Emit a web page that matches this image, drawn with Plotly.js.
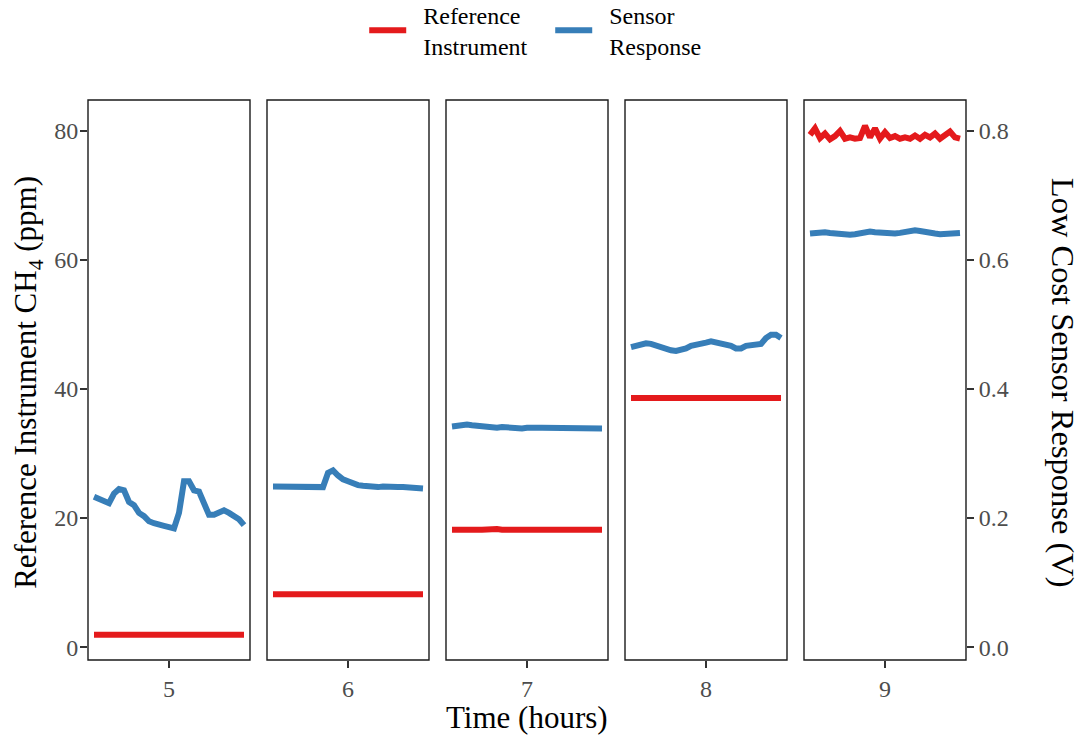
<!DOCTYPE html>
<html>
<head>
<meta charset="utf-8">
<script src="https://cdn.plot.ly/plotly-3.0.1.min.js"></script>
<style>html,body{margin:0;padding:0;background:#fff;}#chart{width:1085px;height:736px;}</style>
</head>
<body>
<div id="chart"></div>
<script>
// Hours shown (one panel each)
const hours = [5, 6, 7, 8, 9];
// Sampling offsets within each hour (hours)
const offsets = [-0.45,-0.42,-0.39,-0.36,-0.33,-0.30,-0.27,-0.24,-0.21,-0.18,-0.15,-0.12,-0.09,-0.06,-0.03,0,
                 0.03,0.06,0.09,0.12,0.15,0.18,0.21,0.24,0.27,0.30,0.33,0.36,0.39,0.42,0.45];

// Reference instrument CH4 (ppm)
const ref5 = [1.9,1.9,1.9,1.9,1.9,1.9,1.9,1.9,1.9,1.9,1.9,1.9,1.9,1.9,1.9,1.9,1.9,1.9,1.9,1.9,1.9,1.9,1.9,1.9,1.9,1.9,1.9,1.9,1.9,1.9,1.9];
const ref6 = [8.2,8.2,8.2,8.2,8.2,8.2,8.2,8.2,8.2,8.2,8.2,8.2,8.2,8.2,8.2,8.2,8.2,8.2,8.2,8.2,8.2,8.2,8.2,8.2,8.2,8.2,8.2,8.2,8.2,8.2,8.2];
const ref7 = [18.2,18.3,18.2,18.2,18.3,18.2,18.2,18.3,18.2,18.3,18.2,18.2,18.3,18.3,18.2,18.2,18.3,18.2,18.3,18.3,18.2,18.3,18.2,18.2,18.3,18.3,18.2,18.3,18.2,18.3,18.2];
const ref8 = [38.6,38.6,38.7,38.6,38.7,38.7,38.6,38.6,38.6,38.6,38.6,38.6,38.6,38.6,38.6,38.6,38.6,38.6,38.6,38.6,38.6,38.6,38.6,38.6,38.5,38.6,38.6,38.6,38.6,38.6,38.6];
const ref9 = [79.4,80.4,78.9,79.6,78.7,79.2,80.0,78.8,79.0,78.8,78.9,80.8,79.0,80.4,78.8,79.8,78.9,79.2,78.8,79.0,78.8,79.3,78.8,79.4,79.0,79.6,78.8,79.4,79.9,79.0,78.8];

// Low cost sensor response (V)
const sen5 = [0.233,0.230,0.227,0.223,0.238,0.245,0.243,0.225,0.220,0.208,0.203,0.195,0.192,0.189,0.188,0.186,0.184,0.208,0.257,0.257,0.243,0.241,0.220,0.205,0.205,0.208,0.212,0.208,0.203,0.198,0.189];
const sen6 = [0.249,0.249,0.248,0.248,0.247,0.248,0.247,0.247,0.248,0.247,0.248,0.270,0.274,0.266,0.260,0.257,0.253,0.251,0.250,0.249,0.249,0.248,0.249,0.248,0.248,0.248,0.248,0.247,0.248,0.247,0.246];
const sen7 = [0.342,0.343,0.345,0.345,0.344,0.343,0.342,0.341,0.340,0.340,0.341,0.340,0.340,0.339,0.339,0.340,0.339,0.340,0.340,0.340,0.339,0.339,0.339,0.338,0.339,0.338,0.338,0.339,0.338,0.339,0.339];
const sen8 = [0.465,0.467,0.470,0.471,0.470,0.467,0.465,0.463,0.460,0.459,0.460,0.463,0.467,0.468,0.470,0.472,0.474,0.472,0.470,0.470,0.467,0.463,0.463,0.467,0.468,0.468,0.470,0.479,0.484,0.484,0.479];
const sen9 = [0.641,0.642,0.643,0.643,0.642,0.641,0.640,0.639,0.639,0.640,0.642,0.643,0.644,0.643,0.642,0.641,0.641,0.641,0.642,0.644,0.646,0.646,0.645,0.643,0.642,0.641,0.640,0.640,0.641,0.642,0.642];

const refSeries = [ref5, ref6, ref7, ref8, ref9];
const senSeries = [sen5, sen6, sen7, sen8, sen9];
const tickLabels = ['5', '6', '7', '8', '9'];
const legendNames = ['&nbsp;&nbsp;Reference<br>&nbsp;&nbsp;Instrument', '&nbsp;&nbsp;Sensor<br>&nbsp;&nbsp;Response'];

const RED = '#E41A1C', BLUE = '#377EB8';
const FONT = 'Liberation Serif, Times New Roman, serif';
const domains = [[0, 0.18451], [0.20387, 0.38838], [0.40774, 0.59226], [0.61162, 0.79613], [0.81549, 1]];

const traces = [];
hours.forEach((h, k) => {
  const xa = k === 0 ? 'x' : 'x' + (k + 1);
  const xs = offsets.map(o => h + o);
  traces.push({
    x: xs, y: refSeries[k], xaxis: xa, yaxis: 'y', type: 'scatter', mode: 'lines',
    line: {color: RED, width: 6}, name: legendNames[0],
    legendgroup: 'ref', showlegend: k === 0, hoverinfo: 'skip'
  });
  traces.push({
    x: xs, y: senSeries[k], xaxis: xa, yaxis: 'y2', type: 'scatter', mode: 'lines',
    line: {color: BLUE, width: 6}, name: legendNames[1],
    legendgroup: 'sen', showlegend: k === 0, hoverinfo: 'skip'
  });
});

const tickFont = {family: FONT, size: 24, color: '#4d4d4d'};
const layout = {
  width: 1085, height: 736,
  margin: {l: 88, r: 119, t: 100, b: 76, autoexpand: false},
  paper_bgcolor: '#fff', plot_bgcolor: '#fff',
  font: {family: FONT, color: '#000'},
  showlegend: true,
  legend: {
    orientation: 'h', x: 0.3146, xanchor: 'left', y: 1.192, yanchor: 'top',
    font: {family: FONT, size: 24, color: '#000'},
    entrywidth: 134, entrywidthmode: 'pixels', traceorder: 'normal',
    itemwidth: 37, bgcolor: 'rgba(0,0,0,0)', valign: 'middle'
  },
  yaxis: {
    range: [-2.0, 84.8], tickvals: [0, 20, 40, 60, 80], ticks: 'outside', ticklen: 7,
    tickcolor: '#333', tickwidth: 1.3, showgrid: false, zeroline: false, showline: false,
    tickfont: tickFont, anchor: 'x', ticklabelstandoff: -3
  },
  yaxis2: {
    range: [-0.020, 0.848], tickvals: [0, 0.2, 0.4, 0.6, 0.8], tickformat: '.1f',
    ticks: 'outside', ticklen: 7, tickcolor: '#333', tickwidth: 1.3,
    showgrid: false, zeroline: false, showline: false, overlaying: 'y', side: 'right', anchor: 'x5',
    tickfont: tickFont
  },
  shapes: [],
  annotations: [
    {text: 'Reference Instrument CH<sub>4</sub> (ppm)', xref: 'paper', yref: 'paper',
     x: -0.0683, y: 0.495, xanchor: 'center', yanchor: 'middle', textangle: -90,
     showarrow: false, font: {family: FONT, size: 31, color: '#000'}},
    {text: 'Low Cost Sensor Response (V)', xref: 'paper', yref: 'paper',
     x: 1.1105, y: 0.495, xanchor: 'center', yanchor: 'middle', textangle: 90,
     showarrow: false, font: {family: FONT, size: 32.5, color: '#000'}},
    {text: 'Time (hours)', xref: 'paper', yref: 'paper',
     x: 0.5, y: -0.102, xanchor: 'center', yanchor: 'middle',
     showarrow: false, font: {family: FONT, size: 31, color: '#000'}}
  ]
};

hours.forEach((h, k) => {
  const name = k === 0 ? 'xaxis' : 'xaxis' + (k + 1);
  layout[name] = {
    domain: domains[k], range: [h - 0.486, h + 0.486], anchor: 'y',
    tickvals: [h], ticktext: [tickLabels[k]], ticks: 'outside', ticklen: 7,
    tickcolor: '#333', tickwidth: 1.3, showgrid: false, zeroline: false, showline: false,
    tickfont: tickFont
  };
  const xr = k === 0 ? 'x domain' : 'x' + (k + 1) + ' domain';
  layout.shapes.push({
    type: 'rect', xref: xr, yref: 'y domain', x0: 0, x1: 1, y0: 0, y1: 1,
    line: {color: '#1a1a1a', width: 1.4}, fillcolor: 'rgba(0,0,0,0)', layer: 'above'
  });
});

Plotly.newPlot('chart', traces, layout, {staticPlot: true, displayModeBar: false});
</script>
</body>
</html>
